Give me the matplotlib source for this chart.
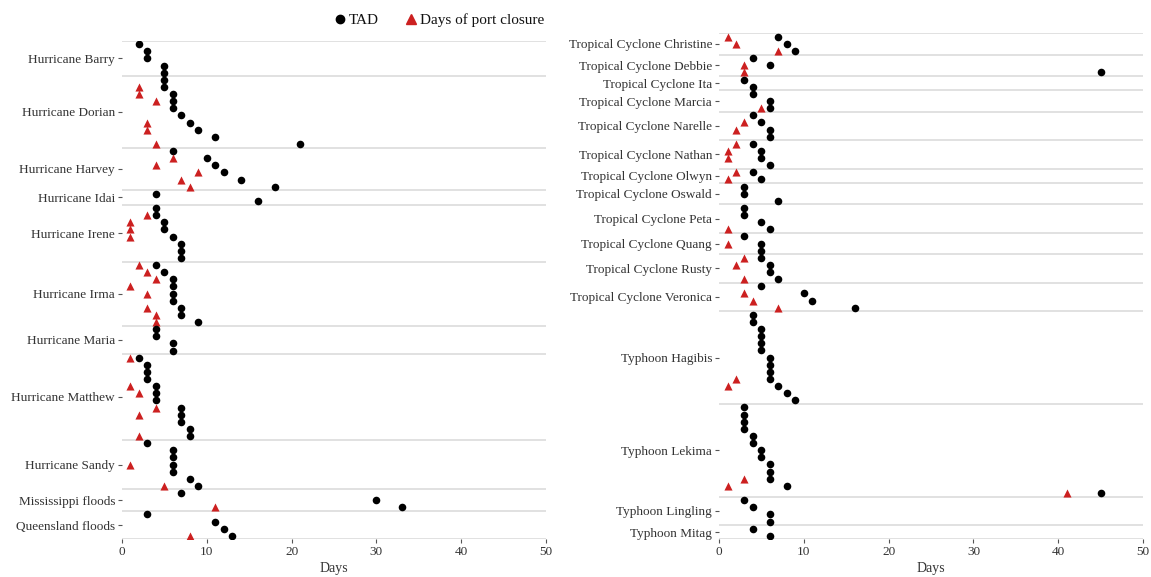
import matplotlib
matplotlib.use("Agg")
import matplotlib.pyplot as plt
from matplotlib.lines import Line2D

plt.rcParams['font.family'] = ['Liberation Serif', 'DejaVu Serif']

# Hurricanes and floods (left panel): one row per port, TAD and closure days
left_events = ["Hurricane Barry", "Hurricane Dorian", "Hurricane Harvey", "Hurricane Idai",
               "Hurricane Irene", "Hurricane Irma", "Hurricane Maria", "Hurricane Matthew",
               "Hurricane Sandy", "Mississippi floods", "Queensland floods"]
left_tad = [
    [2, 3, 3, 5, 5],
    [5, 5, 6, 6, 6, 7, 8, 9, 11, 21],
    [6, 10, 11, 12, 14, 18],
    [4, 16],
    [4, 4, 5, 5, 6, 7, 7, 7],
    [4, 5, 6, 6, 6, 6, 7, 7, 9],
    [4, 4, 6, 6],
    [2, 3, 3, 3, 4, 4, 4, 7, 7, 7, 8, 8],
    [3, 6, 6, 6, 6, 8, 9],
    [7, 30, 33],
    [3, 11, 12, 13],
]
left_closure = [
    [None, None, None, None, None],
    [None, 2, 2, 4, None, None, 3, 3, None, 4],
    [None, 6, 4, 9, 7, 8],
    [None, None],
    [None, 3, 1, 1, 1, None, None, None],
    [2, 3, 4, 1, 3, None, 3, 4, 4],
    [None, None, None, None],
    [1, None, None, None, 1, 2, None, 4, 2, None, None, 2],
    [None, None, None, 1, None, None, 5],
    [None, None, 11],
    [None, None, None, 8],
]

# Cyclones and typhoons (right panel)
right_events = ["Tropical Cyclone Christine", "Tropical Cyclone Debbie", "Tropical Cyclone Ita",
                "Tropical Cyclone Marcia", "Tropical Cyclone Narelle", "Tropical Cyclone Nathan",
                "Tropical Cyclone Olwyn", "Tropical Cyclone Oswald", "Tropical Cyclone Peta",
                "Tropical Cyclone Quang", "Tropical Cyclone Rusty", "Tropical Cyclone Veronica",
                "Typhoon Hagibis", "Typhoon Lekima", "Typhoon Lingling", "Typhoon Mitag"]
right_tad = [
    [7, 8, 9],
    [4, 6, 45],
    [3, 4],
    [4, 6, 6],
    [4, 5, 6, 6],
    [4, 5, 5, 6],
    [4, 5],
    [3, 3, 7],
    [3, 3, 5, 6],
    [3, 5, 5],
    [5, 6, 6, 7],
    [5, 10, 11, 16],
    [4, 4, 5, 5, 5, 5, 6, 6, 6, 6, 7, 8, 9],
    [3, 3, 3, 3, 4, 4, 5, 5, 6, 6, 6, 8, 45],
    [3, 4, 6, 6],
    [4, 6],
]
right_closure = [
    [1, 2, 7],
    [None, 3, 3],
    [None, None],
    [None, None, 5],
    [None, 3, 2, None],
    [2, 1, 1, None],
    [2, 1],
    [None, None, None],
    [None, None, None, 1],
    [None, 1, None],
    [3, 2, None, 3],
    [None, 3, 4, 7],
    [None] * 9 + [2, 1, None, None],
    [None] * 10 + [3, 1, 41],
    [None, None, None, None],
    [None, None],
]

ticks_x = [0, 10, 20, 30, 40, 50]
text_col = "#333333"
grid_col = "#d9d9d9"
red = "#cc2020"


def draw_panel(ax, events, tad, closure):
    row = 0
    centers = []
    bounds = [-0.5]
    for name, t, c in zip(events, tad, closure):
        n = len(t)
        ys = list(range(row, row + n))
        ax.scatter(t, ys, marker="o", s=30, color="black", zorder=3, linewidths=0)
        cy = [y for y, v in zip(ys, c) if v is not None]
        cv = [v for v in c if v is not None]
        ax.scatter(cv, cy, marker="^", s=34, color=red, zorder=3, linewidths=0)
        centers.append(row + (n - 1) / 2)
        row += n
        bounds.append(row - 0.5)
    for b in bounds:
        ax.axhline(b, color=grid_col, lw=1.1, zorder=1)
    ax.set_ylim(row - 0.5, -0.5)
    ax.set_xlim(0, 50)
    ax.set_yticks(centers)
    ax.set_yticklabels(events)
    ax.set_xticks(ticks_x)
    ax.set_xlabel("Days", fontsize=10, color=text_col, labelpad=3)
    ax.tick_params(axis="both", colors="#555555", labelcolor=text_col, labelsize=9.5,
                   length=3, width=0.8, pad=2)
    for s in ax.spines.values():
        s.set_visible(False)


fig = plt.figure(figsize=(11.51, 5.77), dpi=100)
ax1 = fig.add_axes([0.106, 0.0653, 0.3684, 0.8642])
ax2 = fig.add_axes([0.6247, 0.0653, 0.3684, 0.8770])
draw_panel(ax1, left_events, left_tad, left_closure)
draw_panel(ax2, right_events, right_tad, right_closure)

handles = [Line2D([], [], marker="o", ls="", color="black", markersize=6, label="TAD"),
           Line2D([], [], marker="^", ls="", color=red, markersize=6.5, label="Days of port closure")]
fig.legend(handles=handles, loc="center", bbox_to_anchor=(0.381, 0.965), ncol=2, frameon=False,
           fontsize=11, handletextpad=0.1, columnspacing=1.6, handlelength=1.0,
           labelcolor="#111111")

fig.savefig("out.png", dpi=100)
